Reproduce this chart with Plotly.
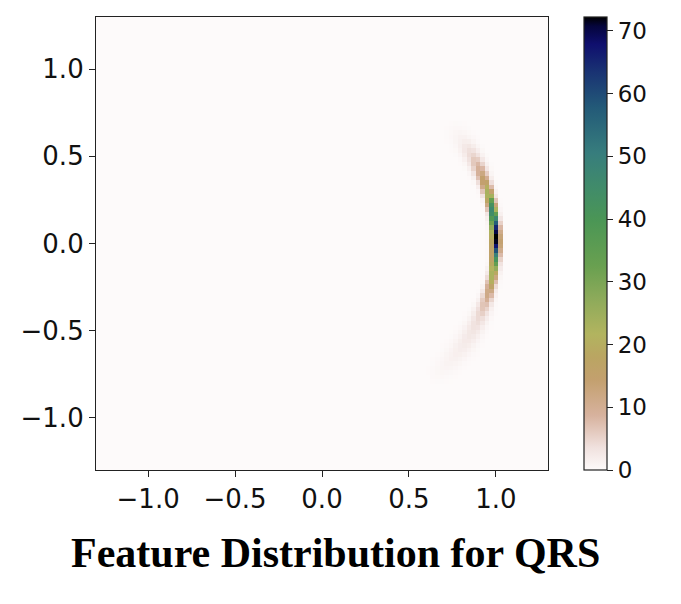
import numpy as np
import plotly.graph_objects as go

# Density profile along the unit-circle arc
arc_angle_deg = [44, 40, 36, 30, 25, 22, 18, 15, 12, 10, 6, 3, 0, -2, -4, -6, -9, -12, -15, -20, -25, -30, -36, -42, -48, -52]
arc_density = [0, 0.5, 1.5, 5, 10, 15, 22, 32, 45, 55, 66, 72, 70, 60, 48, 40, 30, 22, 15, 8, 4.5, 3, 2, 1.2, 0.5, 0]
arc_width = [0.04, 0.04, 0.035, 0.03, 0.026, 0.022, 0.019, 0.017, 0.016, 0.015, 0.015, 0.015, 0.015, 0.015, 0.015, 0.015, 0.016, 0.017, 0.019, 0.024, 0.03, 0.035, 0.04, 0.04, 0.04, 0.04]

tick_vals = [-1.0, -0.5, 0.0, 0.5, 1.0]
tick_text = ["\u22121.0", "\u22120.5", "0.0", "0.5", "1.0"]
cbar_vals = [0, 10, 20, 30, 40, 50, 60, 70]
z_max = 72.2
title_text = "Feature Distribution for QRS"

# grid of bins
nb = 100
edges = np.linspace(-1.3, 1.3, nb + 1)
centers = (edges[:-1] + edges[1:]) / 2
X, Y = np.meshgrid(centers, centers)
R = np.hypot(X, Y)
TH = np.degrees(np.arctan2(Y, X))
prof = np.interp(TH, arc_angle_deg[::-1], arc_density[::-1], left=0, right=0)
wid = np.interp(TH, arc_angle_deg[::-1], arc_width[::-1])
Z = prof * np.exp(-0.5 * ((R - 1.0) / wid) ** 2)
Z = Z * (z_max / Z.max())

colorscale = [
    [0.00, "rgb(253,250,250)"],
    [0.05, "rgb(240,225,222)"],
    [0.12, "rgb(215,178,158)"],
    [0.20, "rgb(195,160,110)"],
    [0.25, "rgb(186,165,98)"],
    [0.30, "rgb(178,180,95)"],
    [0.38, "rgb(140,170,90)"],
    [0.45, "rgb(105,160,80)"],
    [0.55, "rgb(75,150,85)"],
    [0.62, "rgb(65,140,105)"],
    [0.70, "rgb(55,125,125)"],
    [0.80, "rgb(35,90,120)"],
    [0.88, "rgb(25,50,115)"],
    [0.94, "rgb(15,15,110)"],
    [0.98, "rgb(5,5,60)"],
    [1.00, "rgb(0,0,0)"],
]

fig = go.Figure(go.Heatmap(
    x=centers, y=centers, z=Z,
    colorscale=colorscale, zmin=0, zmax=z_max, zsmooth=False,
    colorbar=dict(
        x=1.0796, xanchor="left", y=0, yanchor="bottom", len=1, lenmode="fraction",
        thickness=23, outlinewidth=1.2, outlinecolor="#222", xpad=0, ypad=0,
        tickvals=cbar_vals, ticks="outside", ticklen=6, tickcolor="#222",
        tickfont=dict(family="DejaVu Sans", size=23, color="#111"),
    ),
    hoverinfo="skip",
))

axis_common = dict(
    range=[-1.3, 1.3], tickvals=tick_vals, ticktext=tick_text,
    ticks="outside", ticklen=6, tickcolor="#222", showgrid=False, zeroline=False,
    showline=True, linecolor="#222", linewidth=1.2, mirror=True,
    tickfont=dict(family="DejaVu Sans", size=26, color="#111"),
)
fig.update_xaxes(**axis_common)
fig.update_yaxes(**axis_common)

# page body adds an 8px offset, so the figure is 8px smaller and shifted margins
fig.update_layout(
    width=673, height=596,
    margin=dict(l=88, r=133, t=9, b=134, autoexpand=False),
    plot_bgcolor="white", paper_bgcolor="white",
    showlegend=False,
    annotations=[dict(
        text="<b>" + title_text + "</b>", xref="paper", yref="paper",
        x=(335.5 - 96) / 452, y=-0.183, xanchor="center", yanchor="middle", showarrow=False,
        font=dict(family="Liberation Serif", size=42, color="black"),
    )],
)

fig.write_html("out.html")
